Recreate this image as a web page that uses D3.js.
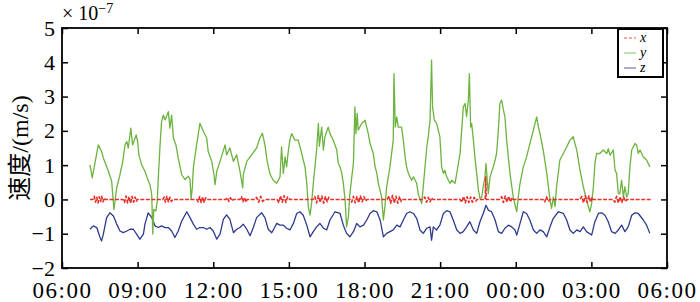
<!DOCTYPE html>
<html>
<head>
<meta charset="utf-8">
<script src="https://cdnjs.cloudflare.com/ajax/libs/d3/7.8.5/d3.min.js"></script>
<style>
  body { margin: 0; background: #fff; }
  svg { display: block; }
</style>
</head>
<body>
<svg></svg>
<script>
  // hours after 06:00, velocity in units of 1e-7 m/s
  let tickHours = [0, 3, 6, 9, 12, 15, 18, 21, 24];
  let tickLabels = ["06:00", "09:00", "12:00", "15:00", "18:00", "21:00", "00:00", "03:00", "06:00"];
  let yTicks = [-2, -1, 0, 1, 2, 3, 4, 5];

  let yHours = [1.11,1.20,1.44,1.57,1.64,1.84,1.97,2.06,2.17,2.30,2.41,2.50,2.57,2.63,2.73,2.80,2.94,3.00,3.05,3.16,3.29,3.38,3.49,3.56,3.60,3.64,3.72,3.78,3.82,3.89,3.95,4.02,4.09,4.22,4.28,4.35,4.42,4.52,4.61,4.75,4.88,5.01,5.08,5.12,5.17,5.21,5.34,5.47,5.61,5.74,5.80,5.94,6.03,6.07,6.14,6.27,6.47,6.53,6.66,6.80,6.93,7.06,7.17,7.19,7.33,7.52,7.72,7.85,7.95,8.05,8.14,8.25,8.38,8.52,8.65,8.71,8.78,8.85,8.91,8.98,9.04,9.11,9.24,9.37,9.51,9.57,9.64,9.71,9.77,9.84,9.90,9.97,10.10,10.17,10.21,10.30,10.37,10.43,10.56,10.63,10.76,10.90,10.96,11.03,11.10,11.16,11.23,11.29,11.36,11.42,11.56,11.62,11.66,11.71,11.75,11.89,12.02,12.15,12.22,12.35,12.42,12.49,12.55,12.68,12.75,12.81,12.88,13.01,13.14,13.17,13.22,13.28,13.34,13.47,13.54,13.61,13.67,13.74,13.87,13.94,14.07,14.13,14.27,14.33,14.47,14.53,14.60,14.66,14.70,14.77,14.86,14.99,15.06,15.13,15.19,15.26,15.39,15.46,15.59,15.66,15.79,15.92,15.99,16.05,16.12,16.16,16.21,16.25,16.32,16.38,16.45,16.52,16.58,16.65,16.71,16.78,16.82,16.87,16.91,16.98,17.11,17.18,17.24,17.31,17.37,17.44,17.51,17.57,17.64,17.77,17.90,18.04,18.10,18.17,18.30,18.43,18.56,18.70,18.83,18.90,18.96,19.09,19.23,19.36,19.42,19.49,19.56,19.62,19.75,19.89,20.02,20.15,20.28,20.35,20.42,20.55,20.68,20.81,20.94,21.01,21.08,21.14,21.21,21.34,21.47,21.61,21.67,21.74,21.87,21.94,22.00,22.07,22.13,22.20,22.27,22.33,22.40,22.46,22.53,22.60,22.73,22.80,22.86,22.93,23.06,23.19,23.32];
  let yValues = [1.01,0.63,1.59,1.40,1.21,0.82,0.53,-0.29,0.34,0.72,1.11,1.59,1.69,1.50,2.08,1.59,1.88,1.69,1.30,1.01,0.82,0.63,0.43,0.14,-1.01,-0.29,-0.34,-0.05,0.63,1.59,2.27,2.46,2.32,2.56,2.08,2.46,1.79,1.59,1.21,0.72,0.58,0.68,0.58,0.00,0.34,0.92,1.59,2.22,1.98,1.79,1.40,1.11,0.72,0.43,0.82,1.11,1.59,1.30,1.50,1.11,1.30,0.82,0.34,0.72,1.11,1.30,1.50,1.79,1.93,1.59,1.11,0.74,0.56,0.47,0.66,1.53,0.76,1.24,0.95,1.43,1.73,1.92,1.73,1.73,1.34,1.15,0.95,0.47,-0.21,-0.46,-0.12,0.47,1.44,2.22,1.55,2.11,1.44,1.83,2.11,1.92,1.73,1.44,1.05,0.95,0.76,0.47,-0.02,-0.80,-0.51,0.17,1.05,2.70,1.92,2.51,2.02,2.22,2.31,1.92,1.63,1.34,0.95,0.76,0.47,0.07,-0.60,-0.21,0.37,0.95,1.73,3.67,2.11,2.41,2.11,2.11,1.73,1.24,0.95,0.76,0.56,0.66,0.47,0.17,-0.12,0.37,1.53,1.83,2.31,4.06,2.70,2.31,2.22,1.83,0.95,0.76,0.85,0.66,0.47,0.56,0.47,0.76,1.34,2.70,2.80,2.41,2.90,3.67,2.11,2.22,1.73,1.24,0.76,0.27,0.03,0.07,0.37,0.66,1.05,0.56,0.17,0.66,0.95,1.15,1.34,2.02,2.80,2.90,2.61,2.41,1.73,0.76,0.07,-0.36,0.07,0.47,0.95,1.24,1.63,2.02,2.41,2.11,1.92,1.44,0.76,-0.02,-0.26,0.07,-0.21,0.37,1.15,1.34,1.53,1.73,1.83,1.63,1.44,0.85,0.37,-0.02,-0.36,-0.12,0.37,1.05,1.34,1.34,1.44,1.34,1.48,1.29,1.44,0.85,0.76,0.17,0.17,0.56,0.07,0.37,0.07,0.17,0.95,1.44,1.63,1.58,1.34,1.44,1.24,1.15,0.95];

  let zHours = [1.11,1.24,1.38,1.51,1.57,1.64,1.77,1.90,2.04,2.17,2.30,2.43,2.57,2.70,2.83,2.96,3.09,3.23,3.29,3.42,3.56,3.69,3.82,3.95,4.09,4.22,4.35,4.48,4.61,4.75,4.95,5.08,5.21,5.34,5.47,5.61,5.74,5.87,6.00,6.14,6.27,6.40,6.53,6.66,6.80,6.93,7.06,7.19,7.33,7.46,7.59,7.72,7.92,8.05,8.18,8.32,8.38,8.52,8.65,8.78,8.91,9.04,9.18,9.31,9.44,9.57,9.71,9.84,9.97,10.10,10.23,10.37,10.50,10.63,10.83,11.03,11.16,11.29,11.42,11.56,11.69,11.82,11.96,12.09,12.22,12.35,12.49,12.62,12.75,12.88,13.01,13.14,13.28,13.41,13.54,13.67,13.80,13.94,14.07,14.20,14.33,14.47,14.60,14.66,14.73,14.86,14.99,15.13,15.26,15.39,15.52,15.66,15.79,15.92,16.05,16.18,16.32,16.45,16.58,16.71,16.82,16.91,17.04,17.18,17.31,17.44,17.57,17.71,17.84,17.97,18.04,18.17,18.30,18.43,18.56,18.70,18.83,18.96,19.09,19.23,19.36,19.49,19.69,19.89,20.02,20.15,20.28,20.42,20.55,20.68,20.81,21.01,21.14,21.28,21.41,21.54,21.67,21.80,21.94,22.07,22.20,22.33,22.46,22.60,22.73,22.86,23.06,23.19,23.32];
  let zValues = [-0.87,-0.77,-0.82,-1.11,-1.21,-1.01,-0.53,-0.39,-0.48,-0.72,-0.92,-0.97,-0.92,-0.87,-0.87,-1.01,-1.16,-1.01,-0.72,-0.39,-0.53,-0.77,-0.82,-0.77,-0.82,-0.82,-0.92,-1.11,-0.92,-0.63,-0.36,-0.53,-0.72,-0.87,-0.82,-0.82,-0.87,-0.82,-0.92,-1.16,-1.01,-0.58,-0.45,-0.58,-0.97,-0.87,-0.82,-0.72,-0.87,-1.06,-0.82,-0.53,-0.39,-0.53,-0.87,-0.97,-0.89,-0.70,-0.75,-0.75,-0.84,-0.89,-0.70,-0.41,-0.36,-0.46,-0.75,-1.09,-0.94,-0.80,-0.70,-0.84,-0.89,-0.60,-0.36,-0.41,-0.75,-0.99,-1.09,-0.94,-0.70,-0.80,-0.75,-0.60,-0.41,-0.33,-0.36,-0.60,-1.09,-0.99,-0.94,-0.89,-0.75,-0.80,-0.60,-0.41,-0.36,-0.41,-0.55,-0.89,-0.99,-0.84,-0.80,-1.19,-0.80,-0.89,-0.75,-0.41,-0.33,-0.36,-0.60,-0.89,-0.99,-0.94,-0.80,-0.65,-0.89,-0.99,-0.65,-0.41,-0.17,-0.31,-0.36,-0.60,-0.94,-0.99,-0.84,-0.75,-0.80,-0.89,-1.04,-0.70,-0.36,-0.41,-0.60,-0.89,-0.99,-0.89,-0.94,-1.09,-0.80,-0.55,-0.36,-0.41,-0.60,-0.89,-0.99,-0.89,-0.94,-0.80,-0.94,-1.04,-0.65,-0.41,-0.39,-0.46,-0.65,-0.94,-0.99,-0.89,-0.75,-0.94,-0.80,-0.46,-0.39,-0.41,-0.60,-0.75,-0.99];

  let xHours = [1.11,1.23,1.28,1.33,1.38,1.43,1.48,1.53,1.58,1.63,1.68,1.71,2.42,2.48,2.54,2.60,2.66,2.72,2.78,2.84,2.90,2.95,2.98,4.00,4.05,4.10,4.16,4.22,4.28,4.34,4.40,5.35,5.40,5.46,5.52,5.58,5.64,5.70,5.75,6.50,6.56,6.62,6.68,6.74,6.80,7.06,7.12,7.18,7.24,7.30,7.34,7.65,7.72,7.80,7.88,7.96,8.05,8.53,8.60,8.67,8.74,8.81,8.88,8.95,9.04,9.96,10.03,10.10,10.17,10.24,10.31,10.38,10.45,10.52,10.58,10.63,11.42,11.49,11.56,11.63,11.70,11.77,11.84,11.91,11.98,12.05,12.10,12.90,12.97,13.04,13.11,13.18,13.25,13.32,13.39,13.46,13.53,14.32,14.39,14.46,14.53,14.60,14.67,14.72,15.79,15.86,15.93,16.00,16.07,16.14,16.21,16.28,16.35,16.42,16.46,16.79,16.81,16.83,17.37,17.44,17.51,17.58,17.65,17.72,17.79,17.86,17.90,19.08,19.15,19.22,19.29,19.36,20.55,20.62,20.69,20.76,20.83,20.90,20.97,21.03,21.06,21.86,21.93,22.00,22.07,22.14,22.21,22.28,22.35,22.41,23.36];
  let xValues = [0,0,0.09,-0.08,0.06,-0.10,0.08,-0.06,0.09,-0.07,0.04,0,0,-0.09,0.10,-0.10,0.08,-0.11,0.09,-0.08,0.07,-0.05,0,0,0.07,-0.08,0.09,-0.07,0.06,-0.06,0,0,-0.07,0.08,-0.09,0.07,-0.08,0.05,0,0,0.05,-0.06,0.05,-0.04,0,0,0.08,-0.07,0.06,-0.08,0,0,0.06,-0.08,0.09,-0.06,0,0,-0.09,0.10,-0.08,0.11,-0.09,0.07,0,0,0.08,-0.10,0.11,-0.09,0.10,-0.11,0.08,-0.07,0.06,0,0,-0.08,0.09,-0.10,0.08,-0.09,0.10,-0.07,0.08,-0.05,0,0,0.10,-0.11,0.12,-0.10,0.09,-0.11,0.08,-0.06,0,0,0.07,-0.08,0.06,-0.07,0.05,0,0,-0.08,0.09,-0.10,0.08,-0.09,0.07,-0.08,0.06,-0.05,0,0,0.66,0,0,0.08,-0.09,0.10,-0.08,0.09,-0.07,0.05,0,0,-0.07,0.08,-0.06,0,0,0.09,-0.10,0.11,-0.09,0.10,-0.08,0.06,0,0,-0.08,0.09,-0.10,0.08,-0.09,0.07,-0.06,0,0];

  let seriesNames = ["x", "y", "z"];
  let seriesColors = ["#e8302a", "#6cb33f", "#2e3a8c"];

  let serif = "'Liberation Serif'";

  let width = 700, height = 302;
  let margin = {top: 28, right: 33, bottom: 34, left: 62};
  let svg = d3.select("svg").attr("width", width).attr("height", height);

  let x = d3.scaleLinear().domain([0, 24]).range([margin.left, width - margin.right]);
  let y = d3.scaleLinear().domain([-2, 5]).range([height - margin.bottom, margin.top]);

  let line = d3.line().x(d => x(d[0])).y(d => y(d[1]));

  let series = [
    d3.zip(xHours, xValues),
    d3.zip(yHours, yValues),
    d3.zip(zHours, zValues)
  ];

  // z first, then y, then x on top
  [2, 1, 0].forEach(function(i) {
    svg.append("path")
      .datum(series[i])
      .attr("fill", "none")
      .attr("stroke", seriesColors[i])
      .attr("stroke-width", i == 0 ? 1.6 : 1.3)
      .attr("stroke-dasharray", i == 0 ? "4,1.5" : null)
      .attr("stroke-linejoin", "round")
      .attr("d", line);
  });

  // axes, ticks pointing inward on all four sides
  let bottom = svg.append("g")
    .attr("transform", "translate(0," + (height - margin.bottom) + ")")
    .call(d3.axisBottom(x).tickValues(tickHours).tickSizeInner(-6).tickSizeOuter(0).tickPadding(14)
      .tickFormat((d, i) => tickLabels[i]));
  bottom.selectAll("text").style("font-size", "23px").style("letter-spacing", "1.5px");

  let left = svg.append("g")
    .attr("transform", "translate(" + margin.left + ",0)")
    .call(d3.axisLeft(y).tickValues(yTicks).tickSizeInner(-6).tickSizeOuter(0).tickPadding(7)
      .tickFormat(d => d < 0 ? "\u2212" + Math.abs(d) : d));
  left.selectAll("text").style("font-size", "22px");

  svg.append("g")
    .attr("transform", "translate(0," + margin.top + ")")
    .call(d3.axisTop(x).tickValues(tickHours).tickSizeInner(-6).tickSizeOuter(0).tickFormat(""));
  svg.append("g")
    .attr("transform", "translate(" + (width - margin.right) + ",0)")
    .call(d3.axisRight(y).tickValues(yTicks).tickSizeInner(-6).tickSizeOuter(0).tickFormat(""));

  svg.selectAll(".domain").remove();
  svg.selectAll(".tick line").attr("stroke", "#000").attr("stroke-width", 1.5);

  svg.append("rect")
    .attr("x", margin.left).attr("y", margin.top)
    .attr("width", width - margin.left - margin.right)
    .attr("height", height - margin.top - margin.bottom)
    .attr("fill", "none").attr("stroke", "#000").attr("stroke-width", 1.8);

  // exponent label
  let expo = svg.append("text").attr("x", margin.left).attr("y", 20).style("font-size", "20px");
  expo.append("tspan").text("\u00d7 10");
  expo.append("tspan").attr("dy", -7).style("font-size", "14px").text("\u22127");

  // y axis title
  let title = svg.append("text")
    .attr("transform", "translate(28," + ((margin.top + height - margin.bottom) / 2) + ") rotate(-90)")
    .attr("text-anchor", "middle")
    .style("font-size", "24px");
  title.append("tspan").style("font-family", "'Noto Sans CJK SC'").text("速度");
  title.append("tspan").text("/(m/s)");

  // legend
  let lg = svg.append("g").attr("transform", "translate(618,29)");
  lg.append("rect").attr("width", 45).attr("height", 48)
    .attr("fill", "#fff").attr("stroke", "#000").attr("stroke-width", 2);
  seriesNames.forEach(function(name, i) {
    let row = lg.append("g").attr("transform", "translate(0," + (9 + i * 15) + ")");
    row.append("line").attr("x1", 6).attr("x2", 18)
      .attr("stroke", seriesColors[i]).attr("stroke-opacity", 0.55).attr("stroke-width", 1.5)
      .attr("stroke-dasharray", i == 0 ? "3,2" : null);
    row.append("text").attr("x", 22).attr("y", 4)
      .style("font-size", "14px").style("font-style", "italic").text(name);
  });

  svg.selectAll("text").style("font-family", function() {
    return this.style.fontFamily || serif;
  }).style("fill", "#000");
  svg.selectAll("tspan").filter(function() { return !this.style.fontFamily; })
    .style("font-family", serif);
</script>
</body>
</html>
